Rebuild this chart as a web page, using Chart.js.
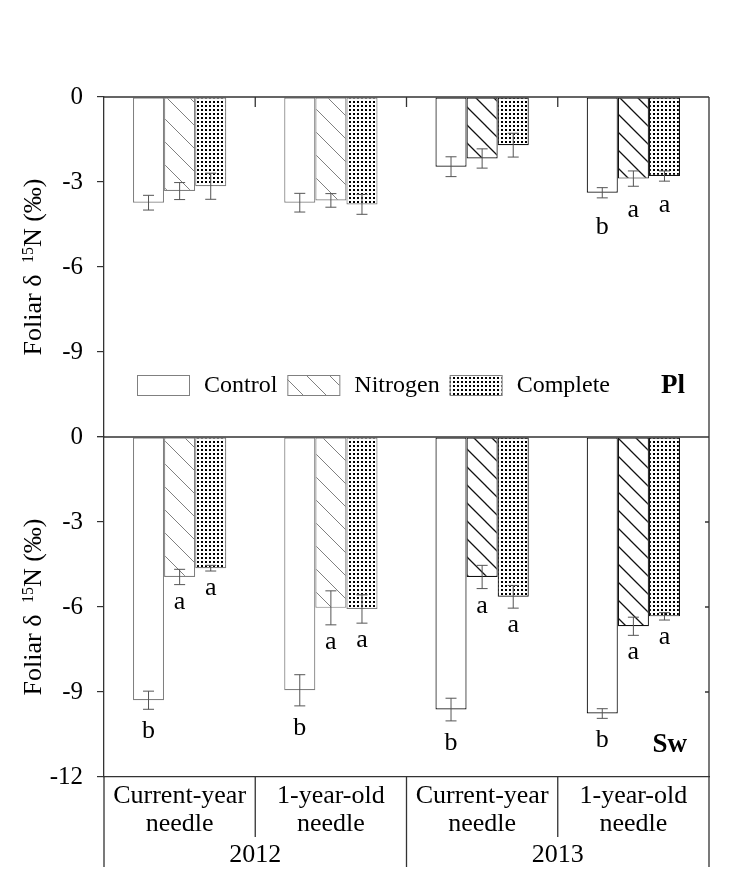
<!DOCTYPE html>
<html>
<head>
<meta charset="utf-8">
<script src="https://cdn.jsdelivr.net/npm/chart.js@4.4.1/dist/chart.umd.min.js"></script>
<style>
  html, body { margin: 0; padding: 0; background: #fff; }
  #chart { display: block; }
</style>
</head>
<body>
<canvas id="chart" width="744" height="880"></canvas>
<script>
const needles = [["Current-year", "needle"], ["1-year-old", "needle"], ["Current-year", "needle"], ["1-year-old", "needle"]];
const catYear = [0, 0, 1, 1];
const years = ["2012", "2013"];
const treatments = ["Control", "Nitrogen", "Complete"];
const panels = ["Pl", "Sw"];
const yTicks = [0, -3, -6, -9, -12];

// Pl (top panel)
const plControl = [-3.73, -3.73, -2.46, -3.38];
const plControlSe = [0.26, 0.33, 0.35, 0.18];
const plControlLetters = ["", "", "", "b"];
const plNitrogen = [-3.32, -3.65, -2.17, -2.88];
const plNitrogenSe = [0.30, 0.24, 0.34, 0.27];
const plNitrogenLetters = ["", "", "", "a"];
const plComplete = [-3.15, -3.79, -1.70, -2.79];
const plCompleteSe = [0.46, 0.35, 0.42, 0.18];
const plCompleteLetters = ["", "", "", "a"];

// Sw (bottom panel)
const swControl = [-9.29, -8.94, -9.62, -9.76];
const swControlSe = [0.32, 0.55, 0.40, 0.17];
const swControlLetters = ["b", "b", "b", "b"];
const swNitrogen = [-4.94, -6.03, -4.94, -6.68];
const swNitrogenSe = [0.27, 0.60, 0.41, 0.32];
const swNitrogenLetters = ["a", "a", "a", "a"];
const swComplete = [-4.63, -6.07, -5.64, -6.33];
const swCompleteSe = [0.10, 0.50, 0.40, 0.13];
const swCompleteLetters = ["a", "a", "a", "a"];

const FONT = '"Liberation Serif", "Times New Roman", serif';
const GREY = "#808080";
const DARK = "#111";

function hatch(gap, color, width) {
  const c = document.createElement("canvas");
  c.width = c.height = gap;
  const g = c.getContext("2d");
  g.fillStyle = "#fff";
  g.fillRect(0, 0, gap, gap);
  g.strokeStyle = color;
  g.lineWidth = width;
  g.beginPath();
  g.moveTo(-1, -1); g.lineTo(gap + 1, gap + 1);
  g.moveTo(gap - 1, -1); g.lineTo(gap + 1, 1);
  g.moveTo(-1, gap - 1); g.lineTo(1, gap + 1);
  g.stroke();
  return g.createPattern(c, "repeat");
}
function dots() {
  const c = document.createElement("canvas");
  c.width = c.height = 4;
  const g = c.getContext("2d");
  g.fillStyle = "#fff";
  g.fillRect(0, 0, 4, 4);
  g.fillStyle = "#000";
  g.fillRect(1, 1, 2, 2);
  return g.createPattern(c, "repeat");
}
const hatchLight = hatch(23, GREY, 1);
const hatchDark = hatch(18, DARK, 1.3);
const dotFill = dots();

const fills = {
  Control: catYear.map(() => "#fff"),
  Nitrogen: catYear.map(y => (y ? hatchDark : hatchLight)),
  Complete: catYear.map(() => dotFill)
};
const legendFills = { Control: "#fff", Nitrogen: hatchLight, Complete: dotFill };

function series(axis, name, values, se, letters) {
  return {
    label: name,
    data: values,
    errors: se,
    letters: letters,
    yAxisID: axis,
    stack: name,
    backgroundColor: fills[name],
    borderColor: catYear.map(y => (y ? DARK : GREY)),
    borderWidth: 1.2,
    borderSkipped: false
  };
}

const datasets = [
  series("yPl", "Control", plControl, plControlSe, plControlLetters),
  series("yPl", "Nitrogen", plNitrogen, plNitrogenSe, plNitrogenLetters),
  series("yPl", "Complete", plComplete, plCompleteSe, plCompleteLetters),
  series("ySw", "Control", swControl, swControlSe, swControlLetters),
  series("ySw", "Nitrogen", swNitrogen, swNitrogenSe, swNitrogenLetters),
  series("ySw", "Complete", swComplete, swCompleteSe, swCompleteLetters)
];

function yAxis(weight, hideBottom) {
  return {
    type: "linear",
    position: "left",
    stack: "panels",
    stackWeight: 1,
    weight: weight,
    stacked: false,
    min: -12,
    max: 0,
    afterBuildTicks: s => { s.ticks = yTicks.map(v => ({ value: v })); },
    afterFit: s => { s.width = 104; },
    ticks: {
      color: "#000",
      padding: 14,
      font: { family: FONT, size: 25 },
      callback: v => (hideBottom && v === -12 ? "" : String(v))
    },
    grid: { drawOnChartArea: false, drawTicks: true, tickLength: 7, color: "#333", lineWidth: 1.2 },
    border: { display: true, color: "#333", width: 1.3 }
  };
}

function drawTitle(ctx, x, y) {
  const big = "26px " + FONT;
  const small = "16px " + FONT;
  const parts = [["Foliar \u03b4 ", big, 0, 5], ["15", small, -8, 0], ["N (\u2030)", big, 0, 0]];
  ctx.save();
  ctx.translate(x, y);
  ctx.rotate(-Math.PI / 2);
  let total = 0;
  parts.forEach(p => { ctx.font = p[1]; total += ctx.measureText(p[0]).width + p[3]; });
  let cx = -total / 2;
  ctx.fillStyle = "#000";
  ctx.textAlign = "left";
  ctx.textBaseline = "alphabetic";
  parts.forEach(p => {
    ctx.font = p[1];
    ctx.fillText(p[0], cx, p[2]);
    cx += ctx.measureText(p[0]).width + p[3];
  });
  ctx.restore();
}

const overlay = {
  id: "overlay",
  afterDatasetsDraw(chart) {
    const ctx = chart.ctx;
    ctx.save();
    chart.data.datasets.forEach((ds, i) => {
      const meta = chart.getDatasetMeta(i);
      const ys = chart.scales[ds.yAxisID];
      const gap = ds.yAxisID === "yPl" ? 19 : 12;
      meta.data.forEach((bar, j) => {
        const v = ds.data[j];
        const e = ds.errors[j];
        const top = ys.getPixelForValue(v + e);
        const bot = ys.getPixelForValue(v - e);
        ctx.strokeStyle = "#555";
        ctx.lineWidth = 1;
        ctx.beginPath();
        ctx.moveTo(bar.x, top); ctx.lineTo(bar.x, bot);
        ctx.moveTo(bar.x - 5.5, top); ctx.lineTo(bar.x + 5.5, top);
        ctx.moveTo(bar.x - 5.5, bot); ctx.lineTo(bar.x + 5.5, bot);
        ctx.stroke();
        const letter = ds.letters[j];
        if (letter) {
          ctx.font = "26px " + FONT;
          ctx.fillStyle = "#000";
          ctx.textAlign = "center";
          ctx.textBaseline = "alphabetic";
          const asc = ctx.measureText(letter).actualBoundingBoxAscent;
          ctx.fillText(letter, bar.x, bot + gap + asc);
        }
      });
    });
    ctx.restore();
  },
  afterDraw(chart) {
    const ctx = chart.ctx;
    const area = chart.chartArea;
    const xs = chart.scales.x;
    const yPl = chart.scales.yPl;
    const ySw = chart.scales.ySw;
    const step = xs.getPixelForValue(1) - xs.getPixelForValue(0);
    const first = xs.getPixelForValue(0) - step / 2;
    ctx.save();
    ctx.strokeStyle = "#333";
    ctx.lineWidth = 1.3;
    ctx.beginPath();
    // frame
    ctx.moveTo(area.left, area.top); ctx.lineTo(area.right, area.top);
    ctx.moveTo(area.right, area.top); ctx.lineTo(area.right, area.bottom + 90);
    ctx.moveTo(area.left, ySw.top); ctx.lineTo(area.right, ySw.top);
    ctx.moveTo(area.left, area.bottom); ctx.lineTo(area.left, area.bottom + 90);
    // category separators below the axis and small ticks at the top
    for (let i = 1; i < needles.length; i++) {
      const bx = first + i * step;
      const yearEdge = catYear[i] !== catYear[i - 1];
      ctx.moveTo(bx, area.bottom); ctx.lineTo(bx, area.bottom + (yearEdge ? 90 : 60));
      ctx.moveTo(bx, area.top); ctx.lineTo(bx, area.top + 10);
    }
    // inner ticks on the right side of the lower panel
    yTicks.slice(1, -1).forEach(v => {
      const py = ySw.getPixelForValue(v);
      ctx.moveTo(area.right, py); ctx.lineTo(area.right - 4, py);
    });
    ctx.stroke();

    // years
    ctx.fillStyle = "#000";
    ctx.font = "26px " + FONT;
    ctx.textAlign = "center";
    ctx.textBaseline = "alphabetic";
    years.forEach((yr, k) => {
      const idx = catYear.map((y, i) => (y === k ? i : -1)).filter(i => i >= 0);
      const cx = (xs.getPixelForValue(idx[0]) + xs.getPixelForValue(idx[idx.length - 1])) / 2;
      ctx.fillText(yr, cx, area.bottom + 85);
    });

    // legend
    let lx = area.left + 33;
    const ly = yPl.bottom - 52;
    ctx.font = "24px " + FONT;
    ctx.textAlign = "left";
    ctx.textBaseline = "middle";
    treatments.forEach(t => {
      ctx.fillStyle = legendFills[t];
      ctx.fillRect(lx, ly - 10, 52, 20);
      ctx.strokeStyle = GREY;
      ctx.lineWidth = 1;
      ctx.strokeRect(lx + 0.5, ly - 9.5, 52, 20);
      lx += 52 + 15;
      ctx.fillStyle = "#000";
      ctx.fillText(t, lx, ly + 1);
      lx += ctx.measureText(t).width + 10;
    });

    // panel labels
    ctx.font = "bold 27px " + FONT;
    ctx.textAlign = "right";
    ctx.textBaseline = "alphabetic";
    ctx.fillText(panels[0], area.right - 24, yPl.bottom - 44);
    ctx.fillText(panels[1], area.right - 22, ySw.bottom - 25);

    // axis titles
    drawTitle(ctx, 40.5, (yPl.top + yPl.bottom) / 2);
    drawTitle(ctx, 40.5, (ySw.top + ySw.bottom) / 2);
    ctx.restore();
  }
};

new Chart(document.getElementById("chart").getContext("2d"), {
  type: "bar",
  data: { labels: needles, datasets: datasets },
  options: {
    responsive: false,
    animation: false,
    devicePixelRatio: 1,
    layout: { padding: { top: 97, right: 35, left: 0, bottom: 0 } },
    datasets: { bar: { categoryPercentage: 0.617, barPercentage: 1 } },
    plugins: { legend: { display: false }, tooltip: { enabled: false } },
    scales: {
      x: {
        type: "category",
        afterFit: s => { s.height = 103; },
        grid: { display: false, drawTicks: false },
        border: { display: true, color: "#333", width: 1.3 },
        ticks: {
          color: "#000",
          padding: 5,
          maxRotation: 0,
          autoSkip: false,
          font: { family: FONT, size: 26, lineHeight: 1.08 }
        }
      },
      yPl: yAxis(1, true),
      ySw: yAxis(0, false)
    }
  },
  plugins: [overlay]
});
</script>
</body>
</html>
